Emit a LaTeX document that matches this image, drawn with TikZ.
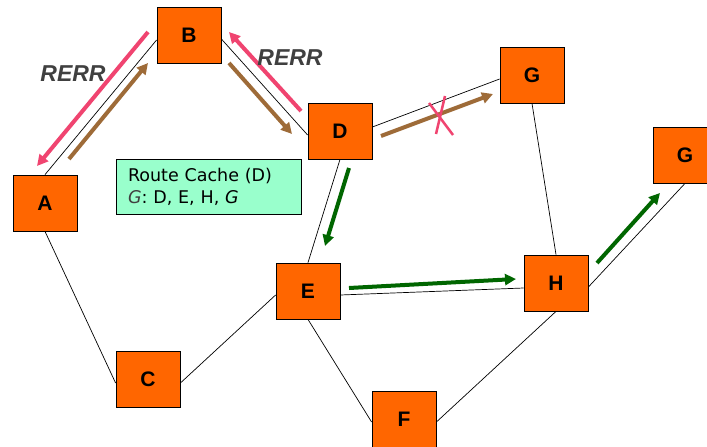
\documentclass[tikz,border=0pt]{standalone}
\usepackage{fontspec}
\setmainfont{Liberation Sans}
\newfontfamily\cachefont{DejaVu Sans}
\usetikzlibrary{arrows.meta}
\definecolor{nodeor}{HTML}{FF6600}
\definecolor{rerrpink}{HTML}{F04470}
\definecolor{rreqbrown}{HTML}{9E6B38}
\definecolor{rrepgreen}{HTML}{006600}
\definecolor{mint}{HTML}{99FFCC}
\definecolor{lblgray}{HTML}{404040}
\tikzset{
  netnode/.style={draw=black, line width=0.8pt, fill=nodeor, minimum width=64pt, minimum height=56pt, inner sep=0pt, font=\fontsize{21}{21}\selectfont\bfseries},
  link/.style={draw=black, line width=0.7pt},
  fatarrow/.style={line width=4pt, -{Triangle[length=11pt,width=11pt]}},
  rerr/.style={fatarrow, draw=rerrpink, color=rerrpink},
  rreq/.style={fatarrow, draw=rreqbrown, color=rreqbrown},
  rrep/.style={fatarrow, draw=rrepgreen, color=rrepgreen},
  rerrlbl/.style={text=lblgray, font=\fontsize{23}{23}\selectfont\bfseries\itshape},
}
\begin{document}
\begin{tikzpicture}[x=1pt,y=-1pt]
\clip (0,0) rectangle (707,447);
\fill[white] (0,0) rectangle (707,447);
% nodes
\node[netnode] (A) at (45,203) {A};
\node[netnode] (B) at (189,35) {B};
\node[netnode] (D) at (340,131) {D};
\node[netnode] (G1) at (532,75) {G};
\node[netnode] (G2) at (685,155) {G};
\node[netnode] (E) at (308,291) {E};
\node[netnode] (H) at (556,283) {H};
\node[netnode] (C) at (148,379) {C};
\node[netnode] (F) at (404,419) {F};
% links
\draw[link] (A.north) -- ([yshift=-5pt]B.west);
\draw[link] ([yshift=-4pt]B.east) -- ([yshift=-4pt]D.west);
\draw[link] ([yshift=4pt]D.east) -- ([yshift=-4pt]G1.west);
\draw[link] (D.south) -- (E.north);
\draw[link] (G1.south) -- (H.north);
\draw[link] ([yshift=-4pt]H.east) -- (G2.south);
\draw[link] ([yshift=-4pt]E.east) -- ([yshift=-5pt]H.west);
\draw[link] (A.south) -- ([yshift=-4pt]C.west);
\draw[link] ([yshift=-4pt]C.east) -- ([yshift=-4pt]E.west);
\draw[link] (E.south) -- ([yshift=-3pt]F.west);
\draw[link] ([yshift=-3pt]F.east) -- (H.south);
% route cache
\node[draw=black, line width=0.8pt, fill=mint, text width=161pt, inner xsep=12pt, inner ysep=4pt, minimum height=55pt, align=left, font=\cachefont\fontsize{17.5}{22}\selectfont] (cache) at (208.5,186.5) {Route Cache (D)\\\textcolor{lblgray}{\itshape G}: D, E, H, \textit{G}};
% message arrows
\coordinate (ab1) at (69,159); \coordinate (ab2) at (148,63);
\coordinate (ba1) at (148,32); \coordinate (ba2) at (37,166);
\coordinate (bd1) at (229,63); \coordinate (bd2) at (292,134);
\coordinate (db1) at (301,111); \coordinate (db2) at (229,32);
\coordinate (dg1) at (381,136); \coordinate (dg2) at (493,94);
\coordinate (de1) at (349,168); \coordinate (de2) at (325,246);
\coordinate (eh1) at (349,288); \coordinate (eh2) at (516,279);
\coordinate (hg1) at (597,263); \coordinate (hg2) at (660,193);
\draw[rreq] (ab1) -- (ab2);
\draw[rerr] (ba1) -- (ba2);
\draw[rreq] (bd1) -- (bd2);
\draw[rerr] (db1) -- (db2);
\draw[rreq] (dg1) -- (dg2);
\draw[rrep] (de1) -- (de2);
\draw[rrep] (eh1) -- (eh2);
\draw[rrep] (hg1) -- (hg2);
% broken mark
\coordinate (x1a) at (436,134); \coordinate (x1b) at (445,96);
\coordinate (x2a) at (429,103); \coordinate (x2b) at (453,135);
\draw[rerrpink, line width=2.5pt] (x1a) -- (x1b);
\draw[rerrpink, line width=2.5pt] (x2a) -- (x2b);
% labels
\node[rerrlbl] (rerr1) at (73,74) {RERR};
\node[rerrlbl] (rerr2) at (290,58) {RERR};
\end{tikzpicture}
\end{document}
